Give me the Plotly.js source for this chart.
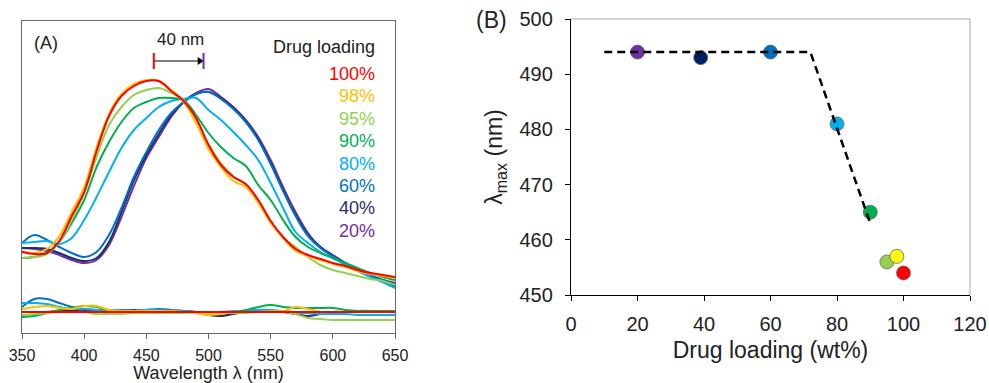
<!DOCTYPE html>
<html><head><meta charset="utf-8">
<script src="https://cdn.plot.ly/plotly-3.0.1.min.js"></script>
<style>html,body{margin:0;padding:0;background:#fff}#chart{width:989px;height:383px}</style>
</head><body><div id="chart"></div>
<script>
// ---------- Panel A data (absorbance, arbitrary units) ----------
const wavelength = [350,360,370,380,390,400,410,420,430,440,450,460,470,480,490,500,510,520,530,540,550,560,570,580,590,600,610,620,630,640,650];

const spec100 = [81,79,80,92,117,141,182,217,237,247,252,252,242,232,215,188,168,156,149,133,112,96,84,78,74,70,67,63,60,58,56];
const spec98  = [82,80,84,97,121,146,186,219,239,249,253,252,243,231,210,184,166,152,146,130,110,95,82,77,73,69,66,62,59,57,55];
const spec95  = [75,76,79,91,113,140,176,208,226,238,243,245,240,233,213,189,170,157,148,133,112,95,86,76,68,63,60,57,54,52,48];
const spec90  = [75,76,80,91,110,133,166,191,211,225,231,235,235,233,218,200,186,175,167,148,133,113,96,86,80,75,70,65,60,56,53];
const spec80  = [90,91,92,89,95,113,136,161,185,203,215,226,232,234,235,223,213,201,188,173,150,125,101,90,81,75,68,62,56,51,45];
const spec60  = [90,98,93,86,80,76,81,98,125,156,181,203,220,231,239,241,234,224,211,193,169,142,117,97,85,77,70,64,58,53,49];
const spec40  = [85,85,84,80,75,72,75,91,121,153,178,199,218,231,239,241,235,225,212,194,170,143,118,98,86,77,70,63,57,52,47];
const spec20  = [85,84,82,78,73,70,73,88,116,147,175,196,216,231,240,244,236,226,213,196,173,146,121,100,86,78,70,63,57,53,50];

const base100 = [21,21,21,21,21,21,21,21,21,21,21,21,21,21,21,21,21,21,21,21,21,21,21,21,21,21,21,21,21,21,21];
const base98  = [24,26,27,25,24,27,27,23,22,22,22,22,22,21,20,18,19,21,21,21,21,22,26,24,21,21,21,21,21,21,21];
const base95  = [18,19,20,21,21,21,19,19,19,20,20,20,20,20,20,20,20,20,20,21,22,21,19,15,14,13,13,13,13,13,13];
const base90  = [16,17,20,23,25,27,26,23,22,22,21,21,21,21,21,21,21,21,23,26,28,26,25,25,25,25,23,22,22,22,22];
const base80  = [30,30,29,26,24,24,23,23,22,22,23,23,22,22,21,21,21,22,22,23,23,22,21,20,19,19,19,18,18,18,18];
const base60  = [26,34,34,30,26,24,23,22,23,22,23,24,23,22,20,19,20,21,22,23,22,21,21,20,20,21,21,22,22,21,21];
const base40  = [21,21,21,22,22,22,22,21,22,23,22,21,21,22,21,18,17,19,21,22,22,21,19,17,19,21,21,21,21,21,21];

const loadingLabels = ['100%','98%','95%','90%','80%','60%','40%','20%'];
const loadingColors = ['#FF0000','#FFC000','#92D050','#00B050','#00B0F0','#0070C0','#1F2F6B','#7030A0'];

// ---------- Panel B data ----------
const loadingWt = [20,39,60,80,90,95,98,100];
const lambdaMax = [494,493,494,481,465,456,457,454];
const pointColors = ['#7030A0','#002060','#0070C0','#00B0F0','#00B050','#92D050','#FFFF00','#FF0000'];
const trendX = [10,72,90];
const trendY = [494,494,463];

// shift marker (40 nm)
const shiftFrom = 456, shiftTo = 496, shiftLevel = 272;

const FONT = 'Liberation Sans, Arial, sans-serif';

// spectra drawn from 20% (bottom) to 100% (top)
const spectraOrder = [
  {label:'20%', y:spec20, base:null},
  {label:'40%', y:spec40, base:base40},
  {label:'60%', y:spec60, base:base60},
  {label:'80%', y:spec80, base:base80},
  {label:'90%', y:spec90, base:base90},
  {label:'95%', y:spec95, base:base95},
  {label:'98%', y:spec98, base:base98},
  {label:'100%', y:spec100, base:base100}
];

const traces = [];
spectraOrder.forEach(s => {
  const col = loadingColors[loadingLabels.indexOf(s.label)];
  if (s.base) traces.push({x:wavelength, y:s.base, type:'scatter', mode:'lines', xaxis:'x', yaxis:'y',
    line:{color:col, width:2, shape:'spline', smoothing:1}, hoverinfo:'skip', name:s.label+' base'});
});
spectraOrder.forEach(s => {
  const col = loadingColors[loadingLabels.indexOf(s.label)];
  traces.push({x:wavelength, y:s.y, type:'scatter', mode:'lines', xaxis:'x', yaxis:'y',
    line:{color:col, width:2, shape:'spline', smoothing:1}, name:s.label});
});

traces.push({x:loadingWt, y:lambdaMax, type:'scatter', mode:'markers', xaxis:'x2', yaxis:'y2',
  marker:{color:pointColors, size:14, line:{color:'#666', width:0.8}}, name:'λmax'});
traces.push({x:trendX, y:trendY, type:'scatter', mode:'lines', xaxis:'x2', yaxis:'y2',
  line:{color:'#000', width:2.5, dash:'8px,5px'}, name:'trend'});

const annotations = [
  {text:'(A)', xref:'paper', yref:'paper', x:32/989, y:1-43/383, xanchor:'left', yanchor:'middle', showarrow:false, font:{family:FONT, size:18, color:'#222'}},
  {text:'40 nm', xref:'paper', yref:'paper', x:180/989, y:1-40/383, xanchor:'center', yanchor:'middle', showarrow:false, font:{family:FONT, size:17, color:'#222'}},
  {text:'Drug loading', xref:'paper', yref:'paper', x:377/989, y:1-47/383, xanchor:'right', yanchor:'middle', showarrow:false, font:{family:FONT, size:18, color:'#222'}},
  {text:'(B)', xref:'paper', yref:'paper', x:474/989, y:1-20/383, xanchor:'left', yanchor:'middle', showarrow:false, font:{family:FONT, size:23, color:'#222'}}
];
loadingLabels.forEach((lab, i) => {
  annotations.push({text:lab, xref:'paper', yref:'paper', x:377/989, y:1-(74+22.4*i)/383,
    xanchor:'right', yanchor:'middle', showarrow:false, font:{family:FONT, size:18, color:loadingColors[i]}});
});

const shapes = [
  {type:'line', xref:'x', yref:'y', x0:shiftFrom, x1:shiftTo-3, y0:shiftLevel, y1:shiftLevel, line:{color:'#000', width:1}},
  {type:'path', xref:'x', yref:'y', path:`M ${shiftTo} ${shiftLevel} L ${shiftTo-4.5} ${shiftLevel+3.5} L ${shiftTo-4.5} ${shiftLevel-3.5} Z`,
   fillcolor:'#000', line:{color:'#000', width:0.5}},
  {type:'line', xref:'x', yref:'y', x0:shiftFrom, x1:shiftFrom, y0:shiftLevel-8, y1:shiftLevel+8, line:{color:'#FF0000', width:2}},
  {type:'line', xref:'x', yref:'y', x0:shiftTo, x1:shiftTo, y0:shiftLevel-8, y1:shiftLevel+8, line:{color:'#7030A0', width:2}},
  {type:'line', xref:'x2 domain', yref:'y2 domain', x0:0, x1:1, y0:1, y1:1, line:{color:'#a6a6a6', width:1}},
  {type:'line', xref:'x2 domain', yref:'y2 domain', x0:1, x1:1, y0:0, y1:1, line:{color:'#a6a6a6', width:1}}
];

const layout = {
  width:989, height:383,
  margin:{l:0, r:0, t:0, b:0},
  paper_bgcolor:'#fff', plot_bgcolor:'#fff',
  showlegend:false,
  font:{family:FONT, color:'#222'},
  xaxis:{domain:[22/989, 395/989], anchor:'y', range:[350,650], tick0:350, dtick:50,
    ticks:'outside', ticklen:5, tickcolor:'#666', showline:true, mirror:true, linecolor:'#666', linewidth:1,
    showgrid:false, zeroline:false, tickfont:{family:FONT, size:16, color:'#222'}, ticklabelstandoff:3,
    title:{text:'Wavelength λ (nm)', font:{family:FONT, size:18, color:'#222'}, standoff:8}},
  yaxis:{domain:[50/383, 362/383], anchor:'x', range:[0,312], showticklabels:false, ticks:'',
    showline:true, mirror:true, linecolor:'#666', linewidth:1, showgrid:false, zeroline:false},
  xaxis2:{domain:[571/989, 970/989], anchor:'y2', range:[0,120], tick0:0, dtick:20,
    ticks:'outside', ticklen:5, tickcolor:'#000', showline:true, linecolor:'#000', linewidth:1.2,
    showgrid:false, zeroline:false, tickfont:{family:FONT, size:20, color:'#222'}, ticklabelstandoff:6,
    title:{text:'Drug loading (wt%)', font:{family:FONT, size:23, color:'#222'}, standoff:7}},
  yaxis2:{domain:[88/383, 364/383], anchor:'x2', range:[450,500], tick0:450, dtick:10,
    ticks:'outside', ticklen:5, tickcolor:'#000', showline:true, linecolor:'#000', linewidth:1.2,
    showgrid:false, zeroline:false, tickfont:{family:FONT, size:20, color:'#222'}, ticklabelstandoff:8,
    title:{text:'λ<sub>max</sub> (nm)', font:{family:FONT, size:23, color:'#222'}, standoff:10}},
  annotations:annotations,
  shapes:shapes
};

Plotly.newPlot('chart', traces, layout, {staticPlot:true, displayModeBar:false});
</script>
</body></html>
